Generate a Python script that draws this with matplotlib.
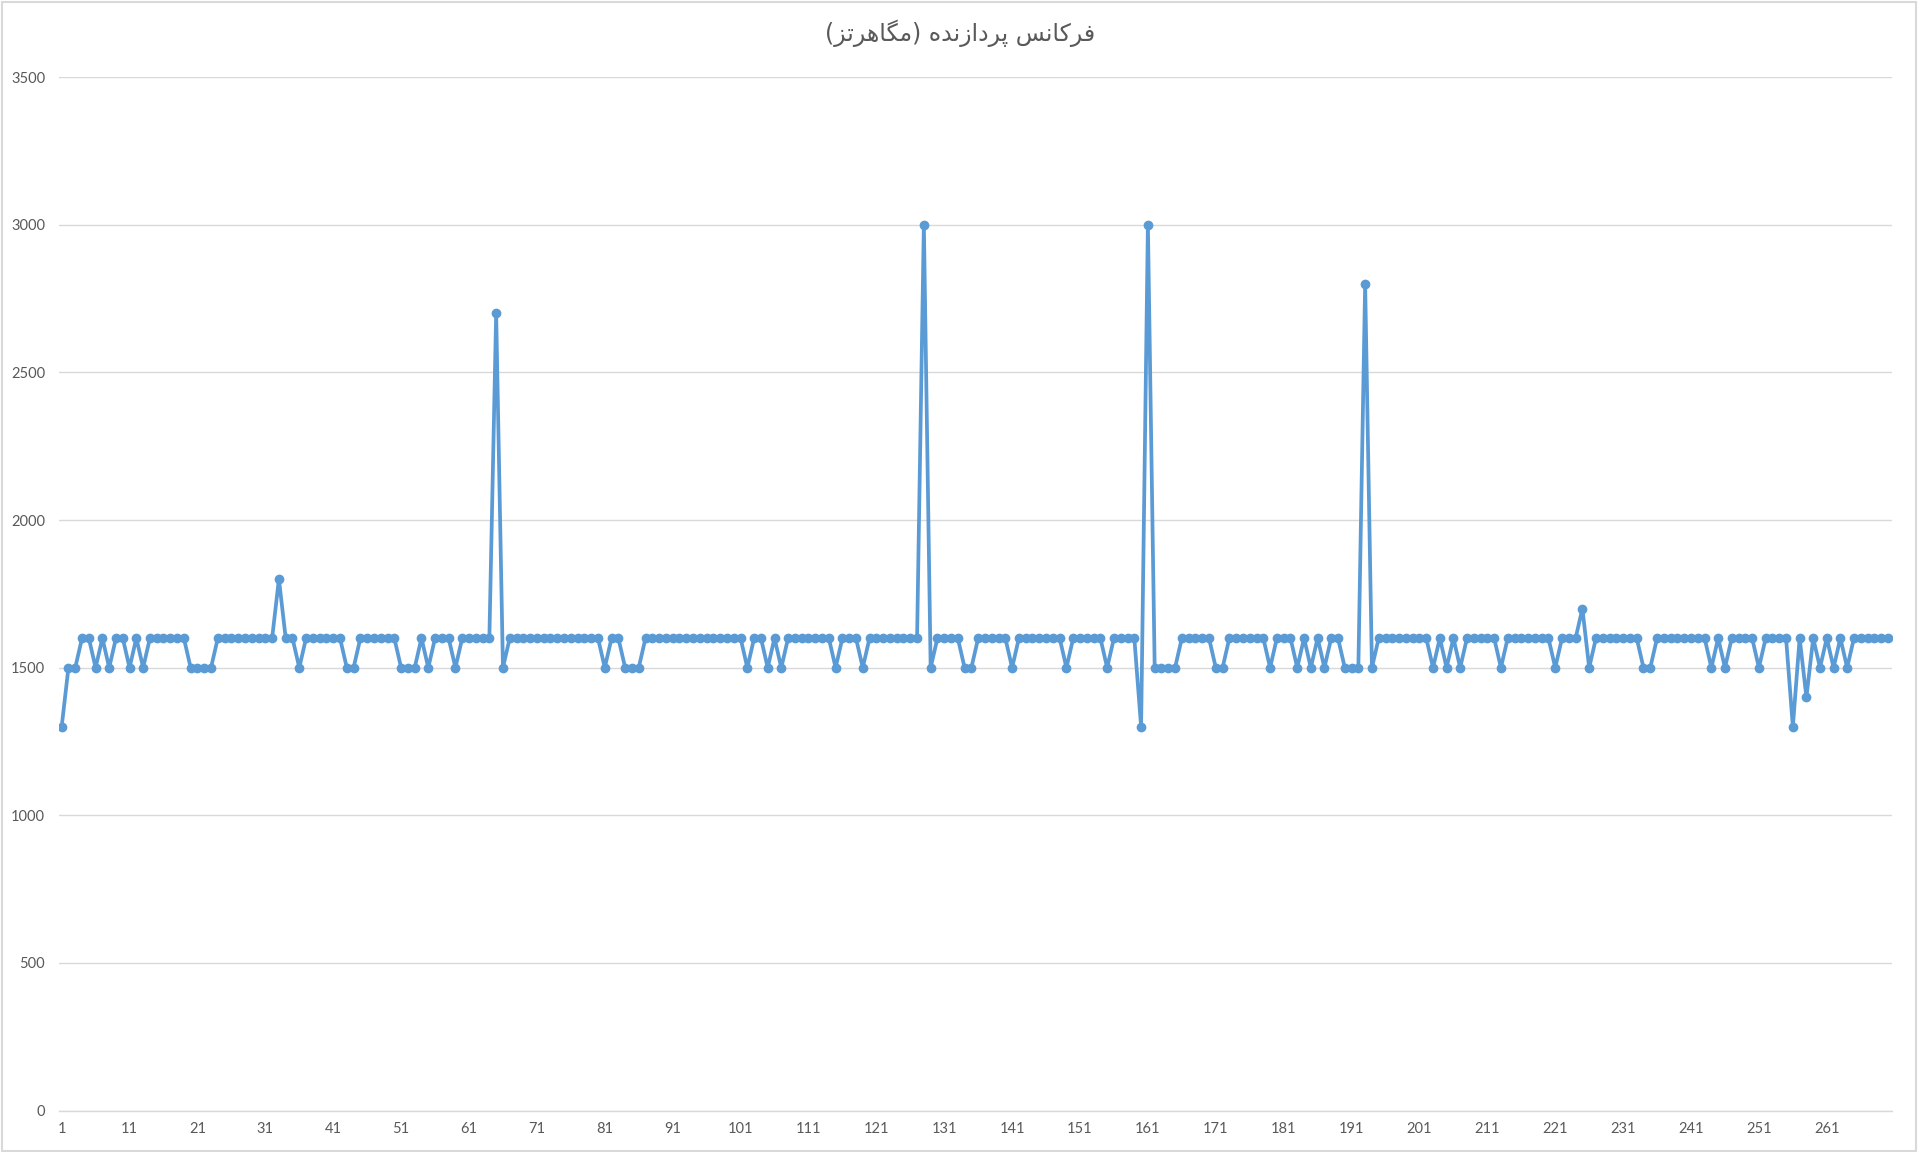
#====================================================================================
# Frequencia do processador (MHz) - grafico de linha com marcadores
#====================================================================================
import numpy as np
import matplotlib
matplotlib.use('Agg')
import matplotlib.pyplot as plt
from matplotlib.patches import Rectangle

#------------------------------------------------------------------------------------
# Dados
#------------------------------------------------------------------------------------
title_text = 'فرکانس پردازنده (مگاهرتز)'

freq_mhz = [
    1300, 1500, 1500, 1600, 1600, 1500, 1600, 1500, 1600, 1600,   # 1-10
    1500, 1600, 1500, 1600, 1600, 1600, 1600, 1600, 1600, 1500,   # 11-20
    1500, 1500, 1500, 1600, 1600, 1600, 1600, 1600, 1600, 1600,   # 21-30
    1600, 1600, 1800, 1600, 1600, 1500, 1600, 1600, 1600, 1600,   # 31-40
    1600, 1600, 1500, 1500, 1600, 1600, 1600, 1600, 1600, 1600,   # 41-50
    1500, 1500, 1500, 1600, 1500, 1600, 1600, 1600, 1500, 1600,   # 51-60
    1600, 1600, 1600, 1600, 2700, 1500, 1600, 1600, 1600, 1600,   # 61-70
    1600, 1600, 1600, 1600, 1600, 1600, 1600, 1600, 1600, 1600,   # 71-80
    1500, 1600, 1600, 1500, 1500, 1500, 1600, 1600, 1600, 1600,   # 81-90
    1600, 1600, 1600, 1600, 1600, 1600, 1600, 1600, 1600, 1600,   # 91-100
    1600, 1500, 1600, 1600, 1500, 1600, 1500, 1600, 1600, 1600,   # 101-110
    1600, 1600, 1600, 1600, 1500, 1600, 1600, 1600, 1500, 1600,   # 111-120
    1600, 1600, 1600, 1600, 1600, 1600, 1600, 3000, 1500, 1600,   # 121-130
    1600, 1600, 1600, 1500, 1500, 1600, 1600, 1600, 1600, 1600,   # 131-140
    1500, 1600, 1600, 1600, 1600, 1600, 1600, 1600, 1500, 1600,   # 141-150
    1600, 1600, 1600, 1600, 1500, 1600, 1600, 1600, 1600, 1300,   # 151-160
    3000, 1500, 1500, 1500, 1500, 1600, 1600, 1600, 1600, 1600,   # 161-170
    1500, 1500, 1600, 1600, 1600, 1600, 1600, 1600, 1500, 1600,   # 171-180
    1600, 1600, 1500, 1600, 1500, 1600, 1500, 1600, 1600, 1500,   # 181-190
    1500, 1500, 2800, 1500, 1600, 1600, 1600, 1600, 1600, 1600,   # 191-200
    1600, 1600, 1500, 1600, 1500, 1600, 1500, 1600, 1600, 1600,   # 201-210
    1600, 1600, 1500, 1600, 1600, 1600, 1600, 1600, 1600, 1600,   # 211-220
    1500, 1600, 1600, 1600, 1700, 1500, 1600, 1600, 1600, 1600,   # 221-230
    1600, 1600, 1600, 1500, 1500, 1600, 1600, 1600, 1600, 1600,   # 231-240
    1600, 1600, 1600, 1500, 1600, 1500, 1600, 1600, 1600, 1600,   # 241-250
    1500, 1600, 1600, 1600, 1600, 1300, 1600, 1400, 1600, 1500,   # 251-260
    1600, 1500, 1600, 1500, 1600, 1600, 1600, 1600, 1600, 1600,   # 261-270
]
sample_idx = list(range(1, len(freq_mhz) + 1))
x_tick_labels = list(range(1, 262, 10))
y_ticks = [0, 500, 1000, 1500, 2000, 2500, 3000, 3500]


#------------------------------------------------------------------------------------
# Formas contextuais do persa (matplotlib nao faz shaping nem RTL)
#------------------------------------------------------------------------------------
def shape_fa(text):
    # iso, fin, ini, med
    forms = {
        'ا': ('\uFE8D', '\uFE8E', None, None),
        'ت': ('\uFE95', '\uFE96', '\uFE97', '\uFE98'),
        'د': ('\uFEA9', '\uFEAA', None, None),
        'ر': ('\uFEAD', '\uFEAE', None, None),
        'ز': ('\uFEAF', '\uFEB0', None, None),
        'س': ('\uFEB1', '\uFEB2', '\uFEB3', '\uFEB4'),
        'ف': ('\uFED1', '\uFED2', '\uFED3', '\uFED4'),
        'م': ('\uFEE1', '\uFEE2', '\uFEE3', '\uFEE4'),
        'ن': ('\uFEE5', '\uFEE6', '\uFEE7', '\uFEE8'),
        'ه': ('\uFEE9', '\uFEEA', '\uFEEB', '\uFEEC'),
        'پ': ('\uFB56', '\uFB57', '\uFB58', '\uFB59'),
        'ک': ('\uFB8E', '\uFB8F', '\uFB90', '\uFB91'),
        'گ': ('\uFB92', '\uFB93', '\uFB94', '\uFB95'),
    }
    right_only = set('اآدذرزژو')
    out = []
    for k, ch in enumerate(text):
        if ch not in forms:
            out.append(ch)
            continue
        prev = text[k - 1] if k > 0 else ''
        nxt = text[k + 1] if k + 1 < len(text) else ''
        join_prev = prev in forms and prev not in right_only
        join_next = nxt in forms and ch not in right_only
        iso, fin, ini, med = forms[ch]
        if join_prev and join_next:
            out.append(med)
        elif join_prev:
            out.append(fin)
        elif join_next:
            out.append(ini)
        else:
            out.append(iso)
    vis = ''.join(reversed(out))
    return vis.translate(str.maketrans('()', ')('))


#------------------------------------------------------------------------------------
# Plot
#------------------------------------------------------------------------------------
plt.rcParams['font.family'] = ['Lato', 'DejaVu Sans']
txt_color = '#595959'
grid_color = '#D9D9D9'
line_color = '#5B9BD5'

fig = plt.figure(figsize=(19.2, 11.52), dpi=100)
ax = fig.add_axes([0.0307, 0.0359, 0.9547, 0.8972])

ax.plot(sample_idx, freq_mhz, color=line_color, lw=2.7, marker='o', ms=6,
        mfc=line_color, mec=line_color, zorder=3)

ax.set_xlim(0.6, 270.6)
ax.set_ylim(0, 3500)
ax.set_yticks(y_ticks)
ax.set_xticks(x_tick_labels)
ax.set_xticklabels([str(v) for v in x_tick_labels])

ax.grid(axis='y', color=grid_color, lw=1.0)
ax.set_axisbelow(True)
for side in ['top', 'right', 'left']:
    ax.spines[side].set_visible(False)
ax.spines['bottom'].set_color(grid_color)
ax.spines['bottom'].set_linewidth(1.0)
ax.tick_params(axis='both', length=0, labelsize=10.5, colors=txt_color)
ax.tick_params(axis='y', pad=10)
ax.tick_params(axis='x', pad=8)

fig.text(0.5, 0.971, shape_fa(title_text), ha='center', va='center',
         fontsize=17, color=txt_color, family=['DejaVu Sans'])

# Borda do grafico
fig.patches.append(Rectangle((0.001, 0.001), 0.997, 0.997, transform=fig.transFigure,
                             fill=False, edgecolor=grid_color, lw=1.5))

plt.savefig('out.png', dpi=100)
plt.close('all')
